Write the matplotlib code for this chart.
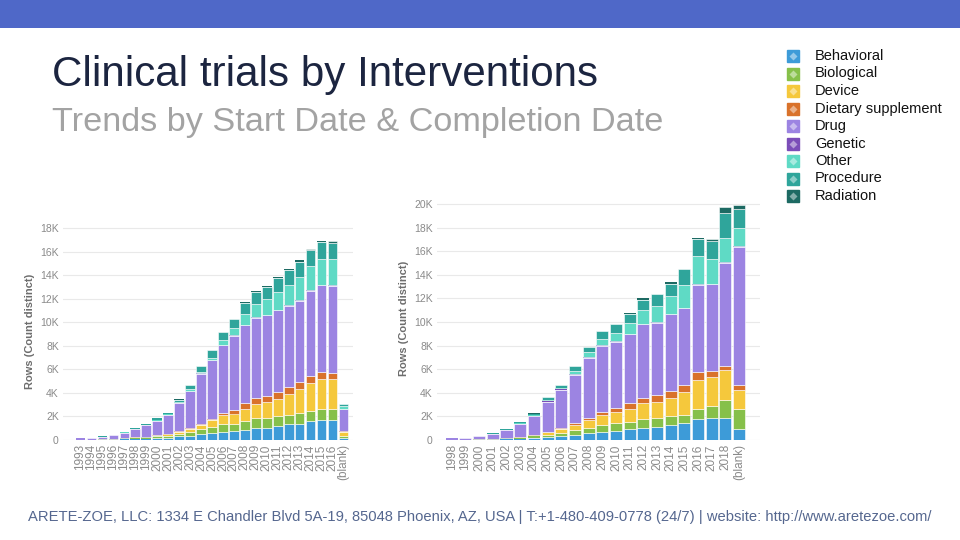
import numpy as np
import matplotlib
matplotlib.use("Agg")
import matplotlib.pyplot as plt
from matplotlib.patches import Rectangle
from matplotlib.ticker import FuncFormatter

plt.rcParams["font.family"] = ["Liberation Sans", "DejaVu Sans"]

# categories and colours
categories = ["Behavioral", "Biological", "Device", "Dietary supplement", "Drug",
              "Genetic", "Other", "Procedure", "Radiation"]
colors = ["#3d9bd8", "#86c04a", "#f5c83c", "#d9722b", "#9c84e2",
          "#7b4db8", "#5fdac5", "#2fa59b", "#1d6a63"]

# start date chart (thousands)
years_start = [str(y) for y in range(1993, 2017)] + ["(blank)"]
beh_s = [0.01, 0.01, 0.02, 0.03, 0.05, 0.08, 0.1, 0.15, 0.2, 0.3, 0.35, 0.5, 0.6, 0.7, 0.75, 0.85, 1.0, 1.05, 1.2, 1.35, 1.4, 1.6, 1.7, 1.7, 0.15]
bio_s = [0.01, 0.02, 0.03, 0.05, 0.08, 0.1, 0.12, 0.15, 0.17, 0.2, 0.3, 0.4, 0.5, 0.65, 0.65, 0.8, 0.85, 0.85, 0.85, 0.8, 0.9, 0.85, 0.95, 0.9, 0.15]
dev_s = [0.0, 0.01, 0.01, 0.02, 0.03, 0.04, 0.05, 0.1, 0.12, 0.2, 0.3, 0.4, 0.6, 0.75, 0.85, 1.0, 1.2, 1.35, 1.45, 1.75, 2.05, 2.35, 2.55, 2.6, 0.35]
diet_s = [0, 0, 0, 0.01, 0.01, 0.02, 0.02, 0.03, 0.05, 0.05, 0.1, 0.1, 0.1, 0.2, 0.3, 0.45, 0.5, 0.5, 0.6, 0.6, 0.55, 0.65, 0.55, 0.5, 0.1]
drug_s = [0.12, 0.15, 0.2, 0.3, 0.45, 0.7, 0.95, 1.2, 1.55, 2.35, 3.1, 4.2, 4.95, 5.75, 6.3, 6.65, 6.85, 6.85, 6.9, 6.9, 6.9, 7.2, 7.4, 7.4, 1.9]
gen_s = [0, 0, 0, 0, 0.01, 0.01, 0.01, 0.02, 0.02, 0.03, 0.05, 0.05, 0.05, 0.05, 0.05, 0.05, 0.05, 0.05, 0.05, 0.05, 0.05, 0.05, 0.05, 0.05, 0.02]
oth_s = [0, 0, 0.01, 0.01, 0.02, 0.02, 0.03, 0.05, 0.06, 0.1, 0.15, 0.15, 0.2, 0.35, 0.6, 0.9, 1.1, 1.3, 1.55, 1.7, 1.95, 2.1, 2.2, 2.2, 0.2]
proc_s = [0.01, 0.01, 0.03, 0.03, 0.05, 0.03, 0.06, 0.13, 0.12, 0.2, 0.3, 0.45, 0.6, 0.7, 0.75, 0.9, 1.05, 1.05, 1.15, 1.25, 1.35, 1.3, 1.4, 1.4, 0.18]
rad_s = [0, 0, 0, 0, 0, 0, 0.01, 0.02, 0.01, 0.02, 0.05, 0.05, 0.05, 0.05, 0.05, 0.1, 0.05, 0.1, 0.1, 0.1, 0.1, 0.15, 0.1, 0.15, 0.02]

# completion date chart (thousands)
years_end = [str(y) for y in range(1998, 2019)] + ["(blank)"]
beh_e = [0.01, 0.01, 0.02, 0.03, 0.05, 0.1, 0.18, 0.26, 0.35, 0.45, 0.57, 0.7, 0.75, 0.9, 1.0, 1.1, 1.25, 1.45, 1.8, 1.9, 1.9, 0.95]
bio_e = [0.01, 0.02, 0.03, 0.05, 0.08, 0.1, 0.12, 0.2, 0.28, 0.43, 0.48, 0.6, 0.65, 0.65, 0.8, 0.75, 0.75, 0.7, 0.85, 0.95, 1.45, 1.7]
dev_e = [0, 0, 0.01, 0.02, 0.03, 0.05, 0.12, 0.2, 0.3, 0.42, 0.62, 0.8, 0.95, 1.1, 1.3, 1.35, 1.6, 1.95, 2.45, 2.5, 2.55, 1.55]
diet_e = [0, 0, 0, 0, 0.01, 0.02, 0.03, 0.05, 0.12, 0.15, 0.2, 0.3, 0.35, 0.45, 0.5, 0.6, 0.55, 0.55, 0.65, 0.5, 0.4, 0.45]
drug_e = [0.12, 0.15, 0.27, 0.42, 0.65, 1.1, 1.6, 2.55, 3.2, 4.1, 5.1, 5.6, 5.6, 5.85, 6.2, 6.15, 6.5, 6.5, 7.4, 7.35, 8.7, 11.7]
gen_e = [0, 0, 0, 0, 0, 0.01, 0.02, 0.03, 0.03, 0.05, 0.05, 0.05, 0.05, 0.05, 0.05, 0.05, 0.05, 0.05, 0.05, 0.05, 0.05, 0.05]
oth_e = [0, 0, 0.01, 0.02, 0.03, 0.04, 0.05, 0.1, 0.12, 0.25, 0.4, 0.55, 0.75, 0.95, 1.15, 1.35, 1.5, 1.9, 2.4, 2.1, 2.05, 1.55]
proc_e = [0.01, 0.02, 0.03, 0.03, 0.05, 0.07, 0.12, 0.22, 0.28, 0.4, 0.45, 0.6, 0.7, 0.75, 0.9, 1.0, 1.05, 1.35, 1.45, 1.55, 2.1, 1.6]
rad_e = [0, 0, 0, 0, 0, 0.01, 0.02, 0.02, 0.02, 0.03, 0.05, 0.05, 0.07, 0.08, 0.1, 0.05, 0.1, 0.05, 0.1, 0.15, 0.55, 0.35]

series_start = [beh_s, bio_s, dev_s, diet_s, drug_s, gen_s, oth_s, proc_s, rad_s]
series_end = [beh_e, bio_e, dev_e, diet_e, drug_e, gen_e, oth_e, proc_e, rad_e]

W, H = 960, 540
fig = plt.figure(figsize=(9.6, 5.4), dpi=100)

# background layer in pixel coords
bg = fig.add_axes([0, 0, 1, 1])
bg.set_xlim(0, W)
bg.set_ylim(H, 0)
bg.axis("off")
bg.add_patch(Rectangle((0, 0), W, 28, color="#4f68c8", lw=0))
bg.text(52, 86, "Clinical trials by Interventions", fontsize=30.3, color="#1c2540",
        ha="left", va="baseline")
bg.text(52, 131, "Trends by Start Date & Completion Date", fontsize=24.7, color="#a3a3a3",
        ha="left", va="baseline")
bg.text(480, 521, "ARETE-ZOE, LLC: 1334 E Chandler Blvd 5A-19, 85048 Phoenix, AZ, USA | "
        "T:+1-480-409-0778 (24/7) | website: http://www.aretezoe.com/",
        fontsize=10.65, color="#55678f", ha="center", va="baseline")

# legend
for i, (name, c) in enumerate(zip(categories, colors)):
    y = 56 + i * 17.5
    bg.plot(793, y, marker="s", ms=9, color=c, mec=c)
    bg.plot(793, y, marker="D", ms=4, color="white", alpha=0.45, mec="none")
    bg.text(815, y, name, fontsize=10.5, color="#111111", ha="left", va="center")


def kfmt(v, pos):
    return "0" if v == 0 else f"{int(round(v / 1000))}K"


def draw(rect, labels, series, ymax, top, xlim):
    ax = fig.add_axes(rect)
    x = np.arange(len(labels))
    bottom = np.zeros(len(labels))
    for vals, c in zip(series, colors):
        v = np.array(vals) * 1000
        # thin white separators only where the segment is tall enough to show
        lw = np.where(v >= 150, 0.4, 0.0)
        ax.bar(x, v, 0.88, bottom=bottom, color=c, edgecolor="white", linewidth=lw)
        bottom += v
    ax.set_xlim(*xlim)
    ax.set_ylim(0, top)
    ax.set_yticks(np.arange(0, ymax + 1, 2000))
    ax.yaxis.set_major_formatter(FuncFormatter(kfmt))
    ax.set_xticks(x)
    ax.set_xticklabels(labels, rotation=90)
    ax.tick_params(length=0, labelsize=7.5, colors="#8a8a8a")
    ax.tick_params(axis="x", labelsize=8.5, pad=3)
    ax.tick_params(axis="y", pad=3)
    ax.grid(axis="y", color="#e9e9e9", lw=0.8)
    ax.set_axisbelow(True)
    for s in ax.spines.values():
        s.set_visible(False)
    ax.set_ylabel("Rows (Count distinct)", fontsize=8, fontweight="bold", color="#6d6d6d")
    return ax


def frac(px_left, px_right, px_bottom, px_top):
    return [px_left / W, 1 - px_bottom / H, (px_right - px_left) / W, (px_bottom - px_top) / H]


# left chart: 0 at y=440, 18K at y=228
top_l = 18500
draw(frac(63, 353, 440, 440 - 212 * top_l / 18000), years_start, series_start,
     18000, top_l, (-1.6, 24.87))
# right chart: 0 at y=440, 20K at y=204
top_r = 20600
draw(frac(437, 760, 440, 440 - 236 * top_r / 20000), years_end, series_end,
     20000, top_r, (-1.08, 22.53))

fig.savefig("out.png", dpi=100)
